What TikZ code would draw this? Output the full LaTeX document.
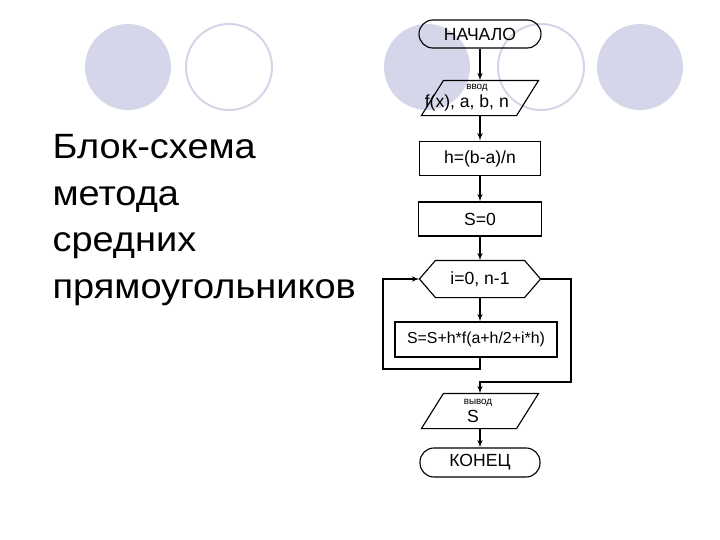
\documentclass[tikz,border=0pt]{standalone}
\usepackage{fontspec}
\setmainfont{Liberation Sans}
\newfontfamily\titlefont[FakeStretch=1.08]{Liberation Sans}
\usetikzlibrary{arrows,calc}
\definecolor{dotfill}{HTML}{D6D6EA}
\definecolor{dotline}{HTML}{D4D4E6}
\newcommand{\tinylabel}{\fontsize{7}{8}\selectfont}

\begin{document}
\begin{tikzpicture}[>=latex', line width=0.8pt,
    font=\fontsize{12.5}{14}\selectfont,
    term/.style={draw, rounded corners=0.35cm, minimum width=3.05cm, minimum height=0.7cm},
    proc/.style={draw, minimum width=3.05cm, minimum height=0.87cm},
    iobox/.style={minimum width=2.9cm, minimum height=0.85cm, inner sep=0pt, align=center},
    hexbox/.style={minimum width=3cm, minimum height=0.9cm, inner sep=0pt}]
      \useasboundingbox (0,0) rectangle (18,-13.5);

      % background dots
      \fill [dotfill] (3.2,-1.675) circle (1.075);
      \draw [dotline, line width=1.4pt] (5.725,-1.675) circle (1.075);
      \fill [dotfill] (10.675,-1.675) circle (1.075);
      \draw [dotline, line width=1.4pt] (13.525,-1.675) circle (1.075);
      \fill [dotfill] (16.0,-1.675) circle (1.075);

      \node [anchor=base west, align=left, inner sep=0pt,
      font=\titlefont\fontsize{25}{33}\selectfont]
      (title) at (1.3,-7.45)
      {Блок-схема\\метода\\средних\\прямоугольников};

      \node [term] (start) at (12,-0.85) {НАЧАЛО};

      \node [iobox] (inp) at (12,-2.45)
      {{\tinylabel ввод}\hspace*{0.15cm}\\[-1pt]f(x), a, b, n\hspace*{0.66cm}};
      \draw (inp.south west) -- ($(inp.north west)+(0.55,0)$)
      -- (inp.north east) -- ($(inp.south east)+(-0.55,0)$) -- cycle;

      \node [proc, minimum width=3.025cm] (hcalc) at (12,-3.9625) {h=(b-a)/n};

      \node [proc, minimum width=3.075cm, minimum height=0.85cm] (szero) at (12,-5.475) {S=0};

      \node [hexbox] (loop) at (12,-6.975) {i=0, n-1};
      \draw (loop.west) -- ($(loop.north west)+(0.4,0)$)
      -- ($(loop.north east)+(-0.4,0)$) -- (loop.east)
      -- ($(loop.south east)+(-0.4,0)$) -- ($(loop.south west)+(0.4,0)$) -- cycle;

      \node [proc, minimum width=4.05cm, minimum height=0.875cm,
      font=\fontsize{11.3}{13}\selectfont] (body) at (11.9,-8.4875)
      {S=S+h*f(a+h/2+i*h)};

      \node [iobox] (outp) at (12,-10.275)
      {{\tinylabel вывод}\hspace*{0.1cm}\\[-1pt]S\hspace*{0.35cm}};
      \draw (outp.south west) -- ($(outp.north west)+(0.55,0)$)
      -- (outp.north east) -- ($(outp.south east)+(-0.55,0)$) -- cycle;

      \node [term, minimum width=3cm, minimum height=0.725cm] (finish) at (12,-11.5625) {КОНЕЦ};

      \coordinate (lp) at (9.575,-9.225);
      \coordinate (rp) at (14.275,-9.55);

      \draw [->] (start) -- (inp);
      \draw [->] (inp) -- (hcalc);
      \draw [->] (hcalc) -- (szero);
      \draw [->] (szero) -- (loop);
      \draw [->] (loop.south) -- (loop.south |- body.north);
      \draw [->] (loop.south |- body.south) -- (loop |- lp) -- (lp) |- (loop.west);
      \draw [->] (loop.east) -| (rp) -- (rp -| outp) -- (outp);
      \draw [->] (outp) -- (finish);
\end{tikzpicture}
\end{document}
